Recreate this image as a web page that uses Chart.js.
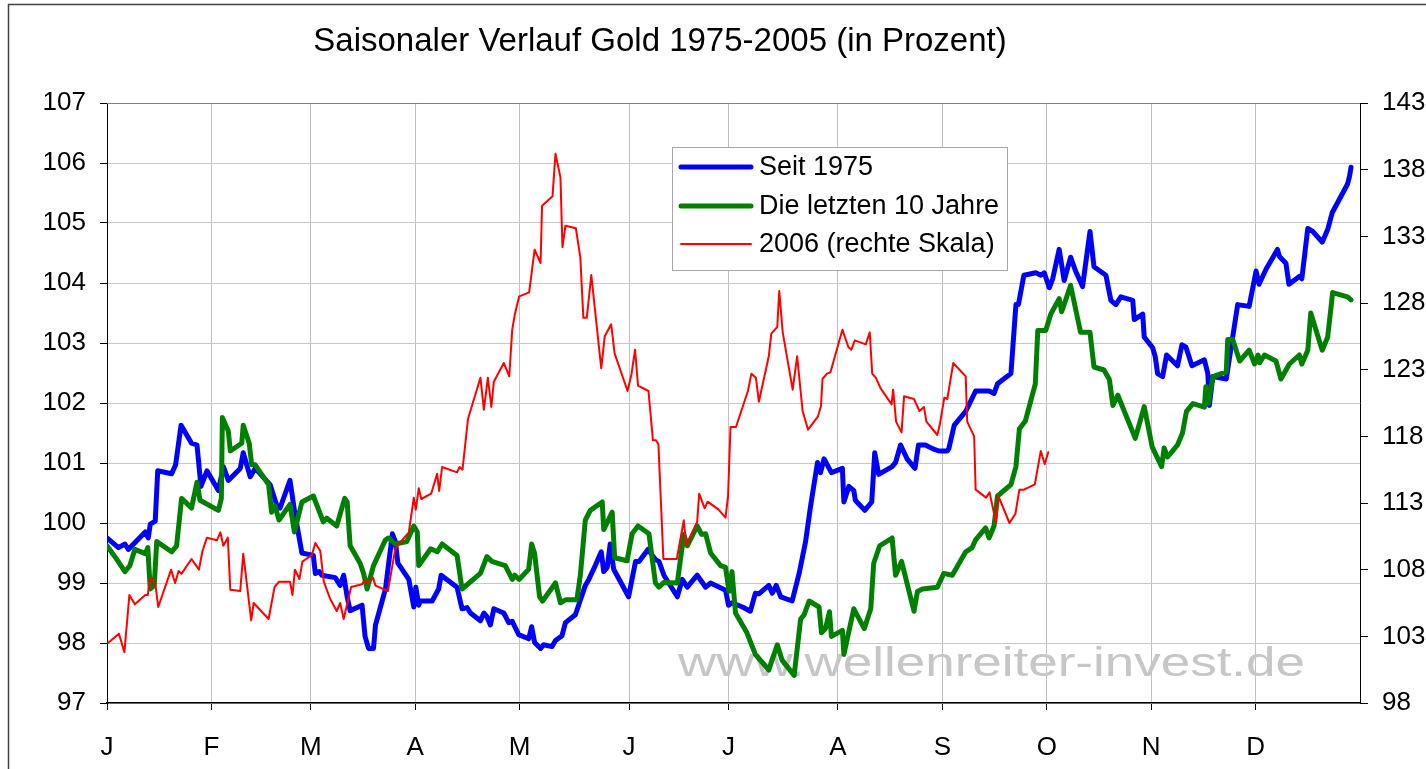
<!DOCTYPE html>
<html lang="de">
<head>
<meta charset="UTF-8">
<title>Saisonaler Verlauf Gold 1975-2005</title>
<script src="https://cdn.jsdelivr.net/npm/chart.js"></script>
<style>
  body { margin: 0; background: #fff; }
  #wrap { width: 1426px; height: 769px; }
</style>
</head>
<body>
<div id="wrap"><canvas id="goldChart" width="1426" height="769"></canvas></div>
<script>
// x = Handelstag im Jahr (0..252), Monatsanfaenge als Achsenticks
const monthStart = [0, 21, 41, 62, 83, 105, 125, 147, 168, 189, 210, 231];
const monthLabels = ['J', 'F', 'M', 'A', 'M', 'J', 'J', 'A', 'S', 'O', 'N', 'D'];

// Seit 1975 (linke Skala)
const blueDay = [0, 2.3, 3.6, 4.3, 5.0, 7.7, 8.3, 8.7, 9.7, 10.2, 13.0, 13.8, 14.9, 17.0, 18.1, 18.9, 20.1, 22.4, 23.4, 24.4,
  26.8, 27.4, 28.8, 29.8, 32.8, 34.2, 34.8, 36.8, 37.8, 39.2, 41.5, 41.9, 42.7, 43.2, 45.9, 46.9, 47.6, 48.3, 48.9, 51.3,
  51.9, 52.6, 53.6, 54.0, 56.0, 57.4, 58.0, 58.5, 60.7, 61.7, 62.1, 62.7, 63.0, 65.4, 66.7, 67.2, 70.4, 71.4, 72.4, 73.1,
  75.1, 75.8, 76.4, 77.1, 77.8, 79.8, 80.8, 81.5, 82.8, 84.8, 85.4, 86.0, 87.2, 87.8, 89.5, 90.2, 91.5, 92.2, 94.2, 96.2,
  96.9, 98.2, 99.4, 99.9, 100.6, 101.2, 101.9, 104.9, 106.3, 107.0, 108.8, 110.3, 111.0, 112.0, 114.7, 115.7, 116.7, 118.7, 120.4, 121.4,
  124.4, 125.0, 125.7, 127.8, 129.4, 130.4, 131.1, 133.1, 133.8, 134.6, 135.5, 137.8, 139.2, 140.5, 141.5, 142.9, 143.5, 144.2, 145.7, 147.9,
  148.2, 149.2, 150.2, 150.5, 152.4, 153.8, 154.4, 155.2, 157.9, 158.6, 159.6, 160.9, 162.5, 163.2, 164.6, 166.0, 167.3, 169.0, 169.3, 170.4,
  172.7, 174.7, 177.4, 178.4, 179.1, 181.8, 182.8, 183.3, 184.4, 186.8, 187.8, 188.5, 189.5, 190.2, 191.5, 192.5, 193.8, 194.8, 196.2, 197.7,
  198.5, 200.9, 201.9, 202.9, 203.9, 206.3, 206.6, 208.3, 208.6, 210.3, 210.8, 211.3, 212.3, 213.1, 215.3, 216.2, 217.0, 218.2, 220.7, 221.4,
  221.7, 222.4, 225.1, 227.4, 229.7, 231.1, 231.7, 233.1, 235.4, 235.8, 237.1, 237.7, 239.8, 240.3, 241.5, 242.5, 244.4, 245.5, 246.4, 249.5,
  249.9, 250.2];
const blueVal = [99.75, 99.59, 99.65, 99.56, 99.62, 99.85, 99.75, 99.98, 100.03, 100.87, 100.82, 100.97, 101.63, 101.33, 101.30, 100.61, 100.87, 100.54, 100.94, 100.71,
  100.91, 101.17, 100.77, 100.91, 100.64, 100.28, 100.25, 100.71, 100.15, 99.50, 99.46, 99.16, 99.19, 99.13, 99.09, 98.96, 99.13, 98.77, 98.54, 98.63,
  98.11, 97.91, 97.91, 98.30, 98.90, 99.82, 99.69, 99.33, 99.06, 98.60, 98.93, 98.63, 98.70, 98.70, 98.90, 99.13, 98.93, 98.57, 98.59, 98.50,
  98.37, 98.50, 98.44, 98.30, 98.57, 98.50, 98.34, 98.36, 98.14, 98.07, 98.27, 98.01, 97.91, 97.97, 97.94, 98.04, 98.12, 98.34, 98.47, 98.96,
  99.06, 99.29, 99.52, 99.19, 99.26, 99.65, 99.23, 98.77, 99.36, 99.36, 99.56, 99.39, 99.36, 99.13, 98.77, 99.06, 98.93, 99.13, 98.93, 99.00,
  98.88, 98.63, 98.67, 98.60, 98.53, 98.83, 98.82, 98.96, 98.83, 98.96, 98.77, 98.70, 99.16, 99.69, 100.28, 101.01, 100.84, 101.07, 100.84, 100.91,
  100.35, 100.61, 100.54, 100.38, 100.21, 100.35, 101.17, 100.81, 100.94, 101.01, 101.30, 101.07, 100.91, 101.30, 101.30, 101.24, 101.20, 101.20, 101.24, 101.63,
  101.86, 102.20, 102.20, 102.16, 102.32, 102.49, 103.64, 103.64, 104.13, 104.17, 104.13, 104.17, 103.92, 104.07, 104.56, 104.04, 104.43, 104.20, 103.94, 104.86,
  104.27, 104.13, 103.71, 103.64, 103.77, 103.71, 103.39, 103.48, 103.10, 102.92, 102.78, 102.49, 102.44, 102.80, 102.62, 102.97, 102.93, 102.62, 102.72, 102.49,
  101.96, 102.44, 102.40, 103.64, 103.61, 104.20, 103.98, 104.23, 104.56, 104.44, 104.33, 103.98, 104.11, 104.07, 104.91, 104.86, 104.68, 104.89, 105.17, 105.65,
  105.78, 105.93];

// Die letzten 10 Jahre (linke Skala)
const greenDay = [0, 2.0, 3.6, 4.6, 5.6, 7.7, 8.2, 8.7, 9.5, 10.0, 13.0, 14.0, 15.0, 17.0, 18.1, 18.7, 22.4, 23.0, 23.2, 24.4,
  24.8, 27.1, 27.4, 28.6, 29.1, 29.8, 32.5, 33.1, 33.8, 34.6, 36.8, 37.7, 39.2, 41.5, 43.5, 44.2, 46.2, 47.8, 48.3, 48.9,
  50.9, 51.6, 52.3, 53.6, 56.0, 56.6, 58.0, 60.3, 61.7, 62.4, 62.7, 65.1, 66.4, 67.4, 70.4, 71.4, 75.1, 76.4, 77.4, 80.1,
  80.9, 81.5, 82.0, 82.9, 84.8, 85.4, 86.0, 87.0, 87.6, 90.2, 91.2, 92.2, 94.5, 95.2, 96.2, 97.2, 99.6, 99.9, 101.6, 102.1,
  104.6, 105.6, 106.8, 109.0, 110.3, 111.0, 112.0, 114.7, 116.0, 116.7, 118.7, 119.6, 120.4, 121.4, 123.4, 124.4, 125.1, 125.7, 126.4, 128.7,
  130.4, 133.1, 134.8, 135.8, 138.2, 139.5, 140.2, 141.2, 143.2, 143.7, 144.5, 145.3, 145.7, 147.9, 148.2, 150.2, 152.3, 153.6, 154.2, 155.4,
  157.9, 158.6, 159.8, 162.3, 163.0, 164.0, 167.0, 168.3, 170.0, 172.7, 174.0, 174.7, 176.7, 177.4, 178.4, 179.1, 181.8, 182.8, 183.5, 184.7,
  186.7, 187.2, 188.8, 189.8, 191.5, 192.0, 193.8, 195.8, 197.7, 198.5, 200.5, 201.6, 202.3, 203.3, 206.8, 208.6, 210.2, 212.1, 212.6, 213.3,
  215.3, 216.3, 217.1, 218.4, 220.7, 221.0, 221.5, 222.4, 225.1, 225.4, 226.4, 227.8, 229.7, 230.8, 231.5, 231.8, 232.8, 235.1, 236.1, 237.8,
  239.8, 240.3, 241.5, 242.1, 244.4, 245.5, 246.5, 249.5, 250.2];
const greenVal = [99.62, 99.39, 99.19, 99.29, 99.56, 99.49, 99.59, 98.90, 98.96, 99.69, 99.52, 99.62, 100.41, 100.25, 100.68, 100.38, 100.21, 100.41, 101.76, 101.53,
  101.20, 101.33, 101.63, 101.33, 100.97, 100.97, 100.64, 100.18, 100.28, 100.05, 100.31, 99.85, 100.35, 100.45, 100.02, 100.08, 99.95, 100.41, 100.35, 99.62,
  99.33, 99.16, 98.90, 99.29, 99.72, 99.75, 99.65, 99.69, 99.95, 99.85, 99.29, 99.57, 99.52, 99.65, 99.46, 98.90, 99.16, 99.44, 99.36, 99.29,
  99.16, 99.06, 99.13, 99.06, 99.23, 99.65, 99.49, 98.77, 98.70, 99.00, 98.67, 98.72, 98.72, 99.13, 100.05, 100.21, 100.35, 99.89, 100.18, 99.42,
  99.37, 99.82, 99.95, 99.82, 99.00, 98.93, 99.01, 99.00, 99.81, 99.62, 99.95, 99.81, 99.82, 99.50, 99.29, 99.26, 98.86, 99.19, 98.50, 98.17,
  97.81, 97.55, 97.97, 97.71, 97.46, 98.40, 98.47, 98.70, 98.60, 98.17, 98.24, 98.52, 98.11, 98.21, 97.81, 98.57, 98.24, 98.57, 99.33, 99.62,
  99.75, 99.13, 99.36, 98.53, 98.86, 98.90, 98.93, 99.16, 99.13, 99.52, 99.59, 99.72, 99.92, 99.75, 99.95, 100.45, 100.64, 100.94, 101.57, 101.70,
  102.32, 103.21, 103.21, 103.48, 103.74, 103.52, 103.96, 103.18, 103.18, 102.60, 102.55, 102.39, 101.96, 102.13, 101.41, 101.94, 101.27, 100.94, 101.25, 101.10,
  101.30, 101.50, 101.86, 101.99, 101.93, 102.27, 101.99, 102.44, 102.52, 103.06, 103.06, 102.70, 102.88, 102.65, 102.80, 102.67, 102.80, 102.70, 102.40, 102.65,
  102.80, 102.65, 102.88, 103.50, 102.88, 103.10, 103.84, 103.77, 103.72];

// 2006 (rechte Skala)
const redDay = [0.2, 2.4, 3.5, 4.5, 5.6, 7.7, 8.2, 8.7, 9.7, 10.3, 12.9, 13.7, 14.4, 15.0, 17.0, 18.5, 19.2, 20.1, 22.1, 22.8,
  23.4, 24.3, 24.8, 26.8, 27.4, 29.0, 29.5, 32.5, 33.7, 34.6, 36.8, 37.3, 37.8, 38.7, 39.3, 41.2, 41.9, 42.9, 43.6, 44.9,
  46.2, 46.9, 47.6, 49.1, 51.3, 51.8, 52.5, 53.5, 54.0, 56.5, 58.0, 58.9, 60.7, 61.7, 62.1, 62.7, 63.2, 65.2, 66.4, 66.8,
  67.4, 70.4, 70.9, 71.5, 72.6, 75.1, 75.8, 76.6, 77.3, 77.8, 79.8, 80.9, 81.5, 82.0, 82.9, 84.9, 86.0, 87.2, 87.5, 89.6,
  90.2, 91.2, 91.6, 92.2, 94.3, 95.2, 95.8, 96.5, 97.4, 99.4, 100.1, 101.4, 102.1, 104.7, 105.5, 106.2, 106.8, 108.9, 109.8, 110.4,
  110.9, 111.9, 114.6, 116.0, 116.5, 118.7, 119.1, 120.2, 120.8, 123.0, 124.4, 124.9, 125.4, 126.5, 128.9, 129.6, 130.5, 131.1, 133.1, 133.6,
  134.8, 135.2, 135.9, 137.9, 138.8, 139.9, 141.0, 143.0, 143.6, 143.9, 144.8, 145.5, 147.9, 149.1, 149.7, 150.4, 152.6, 153.4, 153.9, 154.6,
  155.6, 157.8, 158.1, 158.7, 159.8, 160.3, 162.3, 163.4, 164.3, 164.8, 167.0, 167.5, 168.4, 169.0, 170.2, 172.7, 173.0, 174.4, 174.7, 176.8,
  177.5, 178.8, 179.3, 181.5, 182.7, 183.5, 184.4, 186.6, 187.8, 188.6, 189.3];
const redVal = [102.5, 103.2, 101.8, 106.1, 105.4, 106.1, 106.1, 107.4, 107.0, 105.2, 108.0, 107.0, 107.9, 107.7, 108.8, 108.0, 109.4, 110.4, 110.2, 110.8,
  109.8, 110.4, 106.5, 106.4, 109.2, 104.2, 105.5, 104.3, 106.7, 107.1, 107.1, 106.1, 108.0, 107.3, 108.6, 109.1, 110.0, 109.4, 107.1, 105.8,
  104.9, 105.5, 104.3, 106.7, 106.9, 107.2, 107.0, 107.4, 106.8, 106.4, 109.6, 110.0, 110.8, 113.4, 112.5, 114.1, 113.3, 113.7, 115.2, 113.9,
  115.7, 115.3, 115.7, 115.5, 119.3, 122.4, 120.0, 122.4, 120.2, 122.1, 123.5, 122.5, 126.0, 127.1, 128.5, 128.8, 132.0, 131.0, 135.3, 136.0,
  139.2, 137.4, 132.2, 133.8, 133.6, 131.4, 126.9, 126.9, 130.1, 123.1, 125.5, 126.4, 124.2, 121.4, 122.7, 124.5, 121.8, 121.4, 117.7, 117.7,
  117.4, 108.8, 108.8, 111.7, 109.8, 111.6, 113.7, 112.6, 113.1, 112.5, 111.9, 113.5, 118.7, 118.7, 121.4, 122.7, 122.4, 120.6, 124.0, 125.7,
  126.2, 128.9, 125.8, 121.5, 124.0, 119.9, 118.5, 119.5, 120.3, 122.3, 122.7, 122.8, 126.0, 124.7, 124.5, 125.2, 124.9, 125.8, 122.7, 122.4,
  121.6, 120.4, 121.5, 119.1, 118.3, 121.0, 120.8, 119.9, 120.2, 119.1, 118.1, 118.9, 120.9, 120.8, 123.5, 122.5, 119.1, 118.0, 114.0, 113.4,
  113.8, 111.5, 113.5, 111.5, 112.2, 114.0, 114.0, 114.4, 116.9, 115.9, 116.8];

const seriesNames = ['Seit 1975', 'Die letzten 10 Jahre', '2006 (rechte Skala)'];
const chartTitle = 'Saisonaler Verlauf Gold 1975-2005 (in Prozent)';
const watermark = 'www.wellenreiter-invest.de';

const toPoints = (xs, ys) => xs.map((x, i) => ({ x: x, y: ys[i] }));
const FONT = '"Liberation Sans", Arial, sans-serif';

// Rahmen, Titel, Wasserzeichen und Legende
const decorPlugin = {
  id: 'decor',
  beforeDatasetsDraw(chart) {
    const c = chart.ctx;
    c.save();
    c.font = '41px ' + FONT;
    c.fillStyle = '#c6c6c6';
    const w = c.measureText(watermark).width;
    c.translate(678, 676);
    c.scale(627 / w, 1);
    c.textBaseline = 'alphabetic';
    c.fillText(watermark, 0, 0);
    c.restore();
  },
  afterDatasetsDraw(chart) {
    const c = chart.ctx;
    const a = chart.chartArea;
    c.save();
    // obere Kante der Zeichenflaeche
    c.strokeStyle = '#808080';
    c.lineWidth = 1;
    c.beginPath();
    c.moveTo(a.left, a.top + 0.5);
    c.lineTo(a.right, a.top + 0.5);
    c.stroke();

    // Legende
    c.fillStyle = '#fff';
    c.fillRect(672, 147, 335, 123);
    c.strokeStyle = '#a8a8a8';
    c.strokeRect(672.5, 147.5, 335, 123);
    const cols = ['#0000ff', '#008000', '#ff0000'];
    const widths = [5, 5, 2];
    const ys = [167, 206, 244];
    c.font = '27px ' + FONT;
    c.textBaseline = 'middle';
    c.textAlign = 'left';
    for (let i = 0; i < 3; i++) {
      c.strokeStyle = cols[i];
      c.lineWidth = widths[i];
      c.lineCap = 'round';
      c.beginPath();
      c.moveTo(681, ys[i]);
      c.lineTo(751, ys[i]);
      c.stroke();
      c.fillStyle = '#000';
      c.fillText(seriesNames[i], 759, ys[i] + 1);
    }
    c.restore();
  },
  afterDraw(chart) {
    const c = chart.ctx;
    c.save();
    c.strokeStyle = '#404040';
    c.lineWidth = 1.5;
    c.beginPath();
    c.moveTo(8.5, 769);
    c.lineTo(8.5, 4.5);
    c.lineTo(1426, 4.5);
    c.stroke();
    c.fillStyle = '#000';
    c.font = '33px ' + FONT;
    c.textAlign = 'center';
    c.textBaseline = 'middle';
    c.fillText(chartTitle, 660, 42);
    c.restore();
  }
};

const tickFont = { family: FONT, size: 26 };

new Chart(document.getElementById('goldChart'), {
  type: 'line',
  data: {
    datasets: [
      { label: seriesNames[0], data: toPoints(blueDay, blueVal), borderColor: '#0000ff', borderWidth: 5, yAxisID: 'y', order: 3 },
      { label: seriesNames[1], data: toPoints(greenDay, greenVal), borderColor: '#008000', borderWidth: 5, yAxisID: 'y', order: 2 },
      { label: seriesNames[2], data: toPoints(redDay, redVal), borderColor: '#ff0000', borderWidth: 2, yAxisID: 'y1', order: 1 }
    ]
  },
  options: {
    responsive: false,
    devicePixelRatio: 1,
    animation: false,
    events: [],
    layout: { padding: { top: 103, left: 0, right: 0, bottom: 0 } },
    elements: {
      point: { radius: 0 },
      line: { tension: 0, borderJoinStyle: 'round', borderCapStyle: 'round', fill: false }
    },
    plugins: { legend: { display: false }, title: { display: false }, tooltip: { enabled: false } },
    scales: {
      x: {
        type: 'linear', min: 0, max: 252,
        afterFit: s => { s.height = 66; },
        afterBuildTicks: s => { s.ticks = monthStart.map(v => ({ value: v })); },
        grid: { color: '#c0c0c0', lineWidth: 1, tickLength: 7, tickColor: '#000' },
        border: { color: '#000', width: 1.5 },
        ticks: {
          font: tickFont, color: '#000', padding: 22, maxRotation: 0, autoSkip: false,
          callback: (v, i) => monthLabels[i]
        }
      },
      y: {
        position: 'left', min: 97, max: 107,
        afterFit: s => { s.width = 107; },
        grid: { color: '#c8c8c8', lineWidth: 1, tickLength: 7, tickColor: '#000' },
        border: { color: '#000', width: 1 },
        ticks: { stepSize: 1, font: tickFont, color: '#000', padding: 14 }
      },
      y1: {
        position: 'right', min: 98, max: 143,
        afterFit: s => { s.width = 66; },
        grid: { drawOnChartArea: false, tickLength: 8, tickColor: '#000' },
        border: { color: '#000', width: 1 },
        ticks: { stepSize: 5, font: tickFont, color: '#000', padding: 14 }
      }
    }
  },
  plugins: [decorPlugin]
});
</script>
</body>
</html>
